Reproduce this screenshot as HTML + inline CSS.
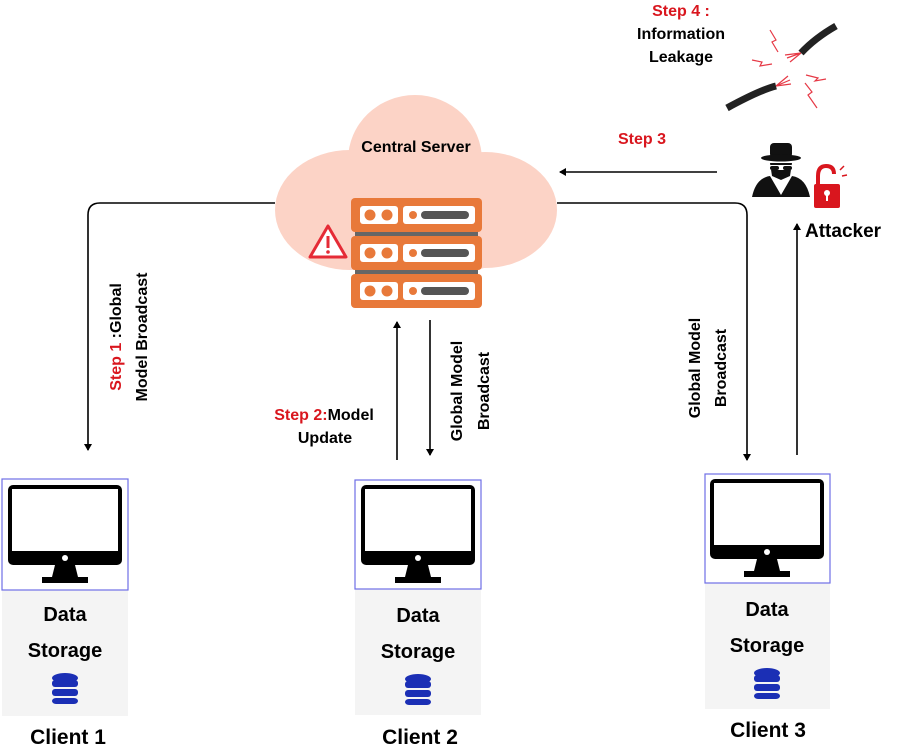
<!DOCTYPE html>
<html><head><meta charset="utf-8"><style>
html,body{margin:0;padding:0;background:#fff}
svg{display:block;font-family:"Liberation Sans",Arial,sans-serif;font-weight:bold}
</style></head><body>
<svg width="900" height="747" viewBox="0 0 900 747">
<defs>
<marker id="ah" markerWidth="8" markerHeight="8" refX="6" refY="4" orient="auto" markerUnits="userSpaceOnUse">
<path d="M0,0 L7,4 L0,8 z" fill="#000"/></marker>
<g id="srv">
<rect x="0" y="0" width="131" height="34" rx="4" fill="#e8793a"/>
<rect x="9" y="8" width="38" height="18" rx="3" fill="#fff"/>
<circle cx="19" cy="17" r="5.5" fill="#e8793a"/><circle cx="36" cy="17" r="5.5" fill="#e8793a"/>
<rect x="52" y="8" width="72" height="18" rx="3" fill="#fff"/>
<circle cx="62" cy="17" r="4" fill="#e8793a"/>
<rect x="70" y="13" width="48" height="8" rx="4" fill="#555"/>
</g>
<g id="mon">
<rect x="6" y="6" width="114" height="80" rx="5" fill="#000"/>
<rect x="10" y="10" width="106" height="62" fill="#fff"/>
<circle cx="63" cy="79" r="3" fill="#fff"/>
<path d="M53,86 L73,86 L76,98 L86,98 L86,104 L40,104 L40,98 L50,98 z" fill="#000"/>
</g>
<g id="db" fill="#1b2fb5">
<ellipse cx="0" cy="0" rx="13" ry="5"/>
<rect x="-13" y="2" width="26" height="7" rx="3"/>
<rect x="-13" y="11" width="26" height="7" rx="3"/>
<rect x="-13" y="20" width="26" height="6" rx="4"/>
</g>
</defs>

<!-- cloud -->
<g fill="#fcd3c6">
<ellipse cx="415" cy="160" rx="67" ry="65"/>
<ellipse cx="350" cy="210" rx="75" ry="60"/>
<ellipse cx="485" cy="210" rx="72" ry="58"/>
<ellipse cx="416" cy="235" rx="110" ry="42"/>
</g>
<text x="416" y="152" font-size="16" text-anchor="middle">Central Server</text>
<use href="#srv" x="351" y="198"/>
<use href="#srv" x="351" y="236"/>
<use href="#srv" x="351" y="274"/>
<rect x="355" y="232" width="123" height="4" fill="#666"/>
<rect x="355" y="270" width="123" height="4" fill="#666"/>
<path d="M328,226 L346,257 L310,257 z" fill="#fff" stroke="#e52b36" stroke-width="3" stroke-linejoin="round"/>
<rect x="326.5" y="236" width="3" height="12" fill="#e52b36"/><circle cx="328" cy="252" r="1.8" fill="#e52b36"/>

<!-- connectors -->
<g stroke="#000" stroke-width="1.6" fill="none">
<path d="M275,203 L100,203 Q88,203 88,215 L88,450" marker-end="url(#ah)"/>
<path d="M557,203 L735,203 Q747,203 747,215 L747,460" marker-end="url(#ah)"/>
<path d="M717,172 L560,172" marker-end="url(#ah)"/>
<path d="M797,455 L797,224" marker-end="url(#ah)"/>
<path d="M397,460 L397,322" marker-end="url(#ah)"/>
<path d="M430,320 L430,455" marker-end="url(#ah)"/>
</g>

<!-- rotated labels -->
<g font-size="16" text-anchor="middle">
<text transform="translate(121,337) rotate(-90)"><tspan fill="#d9161e">Step 1 </tspan>:Global</text>
<text transform="translate(147,337) rotate(-90)">Model Broadcast</text>
<text transform="translate(462,391) rotate(-90)">Global Model</text>
<text transform="translate(489,391) rotate(-90)">Broadcast</text>
<text transform="translate(700,368) rotate(-90)">Global Model</text>
<text transform="translate(726,368) rotate(-90)">Broadcast</text>
</g>
<text x="324" y="420" font-size="16" text-anchor="middle"><tspan fill="#d9161e">Step 2:</tspan>Model</text>
<text x="325" y="443" font-size="16" text-anchor="middle">Update</text>
<text x="642" y="144" font-size="16" fill="#d9161e" text-anchor="middle">Step 3</text>
<text x="681" y="16" font-size="16" fill="#d9161e" text-anchor="middle">Step 4 :</text>
<text x="681" y="39" font-size="16" text-anchor="middle">Information</text>
<text x="681" y="62" font-size="16" text-anchor="middle">Leakage</text>
<text x="805" y="237" font-size="19" text-anchor="start">Attacker</text>

<!-- cable -->
<g stroke="#222" stroke-width="7" fill="none" stroke-linecap="butt">
<path d="M727,108 Q760,90 776,86"/>
<path d="M801,53 Q815,38 836,26"/>
</g>
<g stroke="#e63946" stroke-width="1.2" fill="none">
<path d="M776,86 L790,80 M776,86 L791,84 M776,86 L788,76"/>
<path d="M801,53 L787,58 M801,53 L785,55 M801,53 L790,62"/>
<path d="M770,30 L776,40 L772,42 L778,52"/>
<path d="M752,60 L762,62 L760,66 L772,64"/>
<path d="M805,83 L812,92 L808,95 L817,108"/>
<path d="M806,75 L818,78 L815,81 L826,79"/>
</g>

<!-- attacker -->
<g fill="#111">
<rect x="770" y="143" width="22" height="15" rx="4"/>
<ellipse cx="781" cy="158" rx="20" ry="3.5"/>
<path d="M770,163 L792,163 L790,176 L781,180 L772,176 z"/>
<path d="M752,197 Q756,178 770,176 L781,195 L792,176 Q806,178 810,197 z"/>
</g>
<rect x="769" y="165" width="24" height="5" rx="2" fill="#fff"/>
<rect x="770" y="166" width="9" height="4" rx="2" fill="#111"/><rect x="783" y="166" width="9" height="4" rx="2" fill="#111"/>
<path d="M818,186 L818,176 Q818,166 826,166 Q834,166 834,174" stroke="#d9161e" stroke-width="4" fill="none"/>
<rect x="814" y="184" width="26" height="24" rx="2" fill="#d9161e"/>
<circle cx="827" cy="193" r="3" fill="#fff"/><rect x="826" y="194" width="2" height="7" fill="#fff"/>
<path d="M840,170 L844,166 M842,176 L847,175" stroke="#d9161e" stroke-width="1.5"/>

<!-- clients -->
<g>
<rect x="2" y="590" width="126" height="126" fill="#f4f4f4"/>
<rect x="2" y="479" width="126" height="111" fill="#fff" stroke="#6e6ee6" stroke-width="1.2"/>
<use href="#mon" x="2" y="479"/>
<text x="65" y="621" font-size="20" text-anchor="middle">Data</text>
<text x="65" y="657" font-size="20" text-anchor="middle">Storage</text>
<use href="#db" x="65" y="678"/>
<text x="68" y="744" font-size="21" text-anchor="middle">Client 1</text>
</g>
<g>
<rect x="355" y="589" width="126" height="126" fill="#f4f4f4"/>
<rect x="355" y="480" width="126" height="109" fill="#fff" stroke="#6e6ee6" stroke-width="1.2"/>
<use href="#mon" x="355" y="479"/>
<text x="418" y="622" font-size="20" text-anchor="middle">Data</text>
<text x="418" y="658" font-size="20" text-anchor="middle">Storage</text>
<use href="#db" x="418" y="679"/>
<text x="420" y="744" font-size="21" text-anchor="middle">Client 2</text>
</g>
<g>
<rect x="705" y="583" width="125" height="126" fill="#f4f4f4"/>
<rect x="705" y="474" width="125" height="109" fill="#fff" stroke="#6e6ee6" stroke-width="1.2"/>
<use href="#mon" x="704" y="473"/>
<text x="767" y="616" font-size="20" text-anchor="middle">Data</text>
<text x="767" y="652" font-size="20" text-anchor="middle">Storage</text>
<use href="#db" x="767" y="673"/>
<text x="768" y="737" font-size="21" text-anchor="middle">Client 3</text>
</g>
</svg>
</body></html>
